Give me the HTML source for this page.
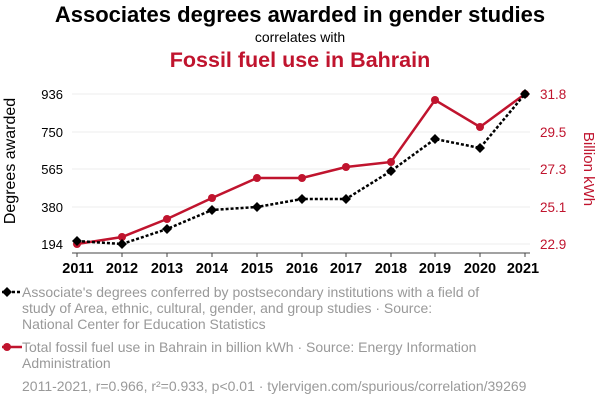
<!DOCTYPE html>
<html><head><meta charset="utf-8"><style>
body{margin:0;width:600px;height:408px;background:#fff;overflow:hidden;font-family:"Liberation Sans",sans-serif}
</style></head><body>
<svg width="600" height="408" xmlns="http://www.w3.org/2000/svg" font-family="Liberation Sans, sans-serif">
<text x="300" y="22" text-anchor="middle" font-size="22" font-weight="bold" fill="#000">Associates degrees awarded in gender studies</text>
<text x="300" y="42" text-anchor="middle" font-size="14" fill="#000">correlates with</text>
<text x="300" y="67" text-anchor="middle" font-size="21.5" font-weight="bold" fill="#c0142e">Fossil fuel use in Bahrain</text>
<g stroke="#eee" stroke-width="1">
<line x1="72" x2="530" y1="94" y2="94"/><line x1="72" x2="530" y1="132" y2="132"/><line x1="72" x2="530" y1="169" y2="169"/><line x1="72" x2="530" y1="207" y2="207"/><line x1="72" x2="530" y1="244" y2="244"/>
</g>
<g stroke="#444" stroke-width="1">
<line x1="72" x2="530" y1="253" y2="253"/>
<line x1="77" x2="77" y1="253" y2="257"/><line x1="122" x2="122" y1="253" y2="257"/><line x1="167" x2="167" y1="253" y2="257"/><line x1="212" x2="212" y1="253" y2="257"/><line x1="257" x2="257" y1="253" y2="257"/><line x1="302" x2="302" y1="253" y2="257"/><line x1="346" x2="346" y1="253" y2="257"/><line x1="391" x2="391" y1="253" y2="257"/><line x1="435" x2="435" y1="253" y2="257"/><line x1="480" x2="480" y1="253" y2="257"/><line x1="525" x2="525" y1="253" y2="257"/>
</g>
<g font-size="14.5" font-weight="bold" text-anchor="middle" fill="#000">
<text x="78" y="273">2011</text><text x="122" y="273">2012</text><text x="167" y="273">2013</text><text x="212" y="273">2014</text><text x="257" y="273">2015</text><text x="302" y="273">2016</text><text x="346" y="273">2017</text><text x="391" y="273">2018</text><text x="435" y="273">2019</text><text x="480" y="273">2020</text><text x="523" y="273">2021</text>
</g>
<g font-size="13" text-anchor="end" fill="#000">
<text x="63" y="99">936</text><text x="63" y="137">750</text><text x="63" y="174">565</text><text x="63" y="212">380</text><text x="63" y="249">194</text>
</g>
<g font-size="13.5" fill="#c0142e">
<text x="540" y="99">31.8</text><text x="540" y="137">29.5</text><text x="540" y="174">27.3</text><text x="540" y="212">25.1</text><text x="540" y="249">22.9</text>
</g>
<text transform="translate(15,161) rotate(-90)" text-anchor="middle" font-size="16" fill="#000">Degrees awarded</text>
<text transform="translate(584,169) rotate(90)" text-anchor="middle" font-size="15" fill="#c0142e">Billion kWh</text>
<polyline fill="none" stroke="#c0142e" stroke-width="2.5" points="77,244 122,237 167,219 212,198 257,178 302,178 346,167 391,162 435,100 480,127 525,94"/>
<g fill="#c0142e">
<circle cx="77" cy="244" r="4"/><circle cx="122" cy="237" r="4"/><circle cx="167" cy="219" r="4"/><circle cx="212" cy="198" r="4"/><circle cx="257" cy="178" r="4"/><circle cx="302" cy="178" r="4"/><circle cx="346" cy="167" r="4"/><circle cx="391" cy="162" r="4"/><circle cx="435" cy="100" r="4"/><circle cx="480" cy="127" r="4"/><circle cx="525" cy="94" r="4"/>
</g>
<polyline fill="none" stroke="#000" stroke-width="2.5" stroke-dasharray="3,2" points="77,241 122,244 167,229 212,210 257,207 302,199 346,199 391,171 435,139 480,148 525,94"/>
<g fill="#000">
<path d="M77 236l5 5-5 5-5-5z"/><path d="M122 239l5 5-5 5-5-5z"/><path d="M167 224l5 5-5 5-5-5z"/><path d="M212 205l5 5-5 5-5-5z"/><path d="M257 202l5 5-5 5-5-5z"/><path d="M302 194l5 5-5 5-5-5z"/><path d="M346 194l5 5-5 5-5-5z"/><path d="M391 166l5 5-5 5-5-5z"/><path d="M435 134l5 5-5 5-5-5z"/><path d="M480 143l5 5-5 5-5-5z"/><path d="M525 89l5 5-5 5-5-5z"/>
</g>
<line x1="2" x2="22" y1="292" y2="292" stroke="#000" stroke-width="2.5" stroke-dasharray="3,2"/>
<path d="M7 287l5 5-5 5-5-5z" fill="#000"/>
<g font-size="14" fill="#999">
<text x="22" y="297">Associate's degrees conferred by postsecondary institutions with a field of</text>
<text x="22" y="313">study of Area, ethnic, cultural, gender, and group studies · Source:</text>
<text x="22" y="329">National Center for Education Statistics</text>
<text x="22" y="352">Total fossil fuel use in Bahrain in billion kWh · Source: Energy Information</text>
<text x="22" y="368">Administration</text>
<text x="22" y="391">2011-2021, r=0.966, r²=0.933, p&lt;0.01 · tylervigen.com/spurious/correlation/39269</text>
</g>
<line x1="2" x2="22" y1="347" y2="347" stroke="#c0142e" stroke-width="2.5"/>
<circle cx="7" cy="347" r="4" fill="#c0142e"/>
</svg>
</body></html>
